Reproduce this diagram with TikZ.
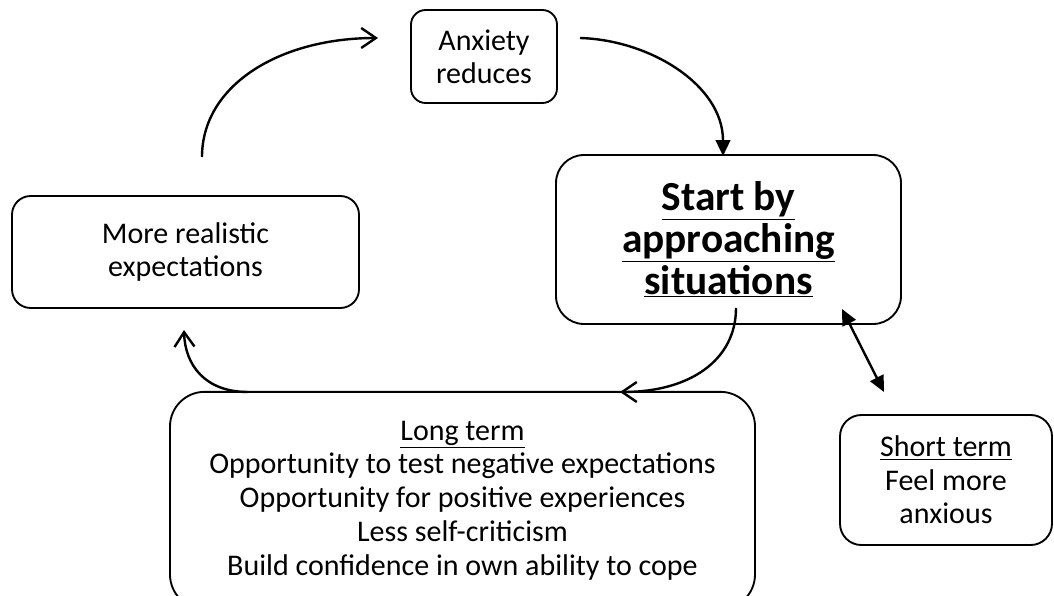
\documentclass[tikz,border=0pt]{standalone}
\usepackage{fontspec}
\setmainfont{Carlito}
\usepackage{tikz}
\usetikzlibrary{arrows.meta, calc}

\begin{document}
\begin{tikzpicture}[x=0.75pt, y=-0.75pt,
  box/.style={draw, line width=1.4pt, align=center, inner sep=0pt, font=\fontsize{22.5}{25}\selectfont},
  barb/.style={line width=1.8pt, -{Straight Barb[length=11pt, width=15pt]}},
  tri/.style={line width=1.8pt, -{Triangle[length=12pt, width=11pt]}}]
  \clip (0,0) rectangle (1054,596);

  % Boxes
  \node[box, rounded corners=11pt, minimum width=109.5pt, minimum height=69.75pt] (anx) at (484,56.5) {Anxiety\\reduces};
  \node[box, rounded corners=21pt, minimum width=258.75pt, minimum height=126.75pt, font=\fontsize{31}{31.5}\selectfont\bfseries] (start) at (728.5,239.5) {\underline{Start by}\\\underline{approaching}\\\underline{situations}};
  \node[box, rounded corners=14pt, minimum width=260.25pt, minimum height=84pt] (real) at (185.5,252) {More realistic\\expectations};
  \node[box, rounded corners=26pt, minimum width=438.75pt, minimum height=163pt, font=\fontsize{22.5}{25.3}\selectfont] (long) at (462.5,500.5) {\underline{Long term}\\Opportunity to test negative expectations\\Opportunity for positive experiences\\Less self-criticism\\Build confidence in own ability to cope};
  \node[box, rounded corners=16pt, minimum width=159pt, minimum height=97.5pt] (short) at (946,480) {\underline{Short term}\\Feel more\\anxious};

  % Free ends of the arrows
  \coordinate (realtop) at (202,157);
  \coordinate (anxleft) at (378,38);
  \coordinate (anxright) at (580,38);
  \coordinate (startlow) at (736,308);
  \coordinate (longtop) at (620,392);
  \coordinate (longleft) at (248,392);
  \coordinate (realbot) at (184,330);
  \coordinate (startcorner) at (842,309);
  \coordinate (shorttop) at (884,392);

  % Cycle
  \draw[barb] (realtop) .. controls (202,85) and (280,38) .. (anxleft);
  \draw[tri] (anxright) .. controls (650,40) and (723,85) .. (723,156);
  \draw[barb] (startlow) .. controls (736,360) and (690,392) .. (longtop);
  \draw[barb] (longleft) .. controls (205,392) and (185,365) .. (realbot);

  % Short term link
  \draw[tri, {Triangle[length=12pt, width=11pt]}-{Triangle[length=12pt, width=11pt]}] (startcorner) -- (shorttop);
\end{tikzpicture}
\end{document}
